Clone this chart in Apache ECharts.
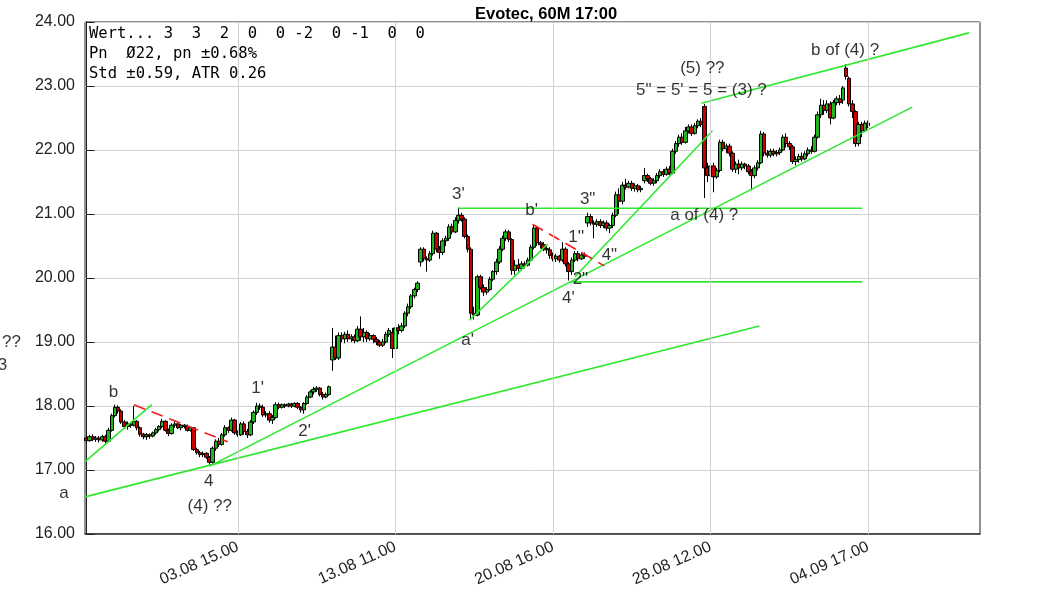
<!DOCTYPE html>
<html><head><meta charset="utf-8">
<script src="https://cdn.jsdelivr.net/npm/echarts@6/dist/echarts.min.js"></script>
<style>html,body{margin:0;padding:0;background:#fff}#c{width:1063px;height:591px}</style>
</head><body><div id="c"></div><script>
// ---- categories (hourly candles, 9:00-17:00) ----
const tradingDays = ['27.07','30.07','31.07','01.08','02.08','03.08','06.08','07.08','08.08','09.08','10.08',
  '13.08','14.08','15.08','16.08','17.08','20.08','21.08','22.08','23.08','24.08','27.08','28.08','29.08','30.08',
  '31.08','03.09','04.09','05.09','06.09','07.09','10.09'];
const hours = [9,10,11,12,13,14,15,16,17];
const firstDayStartHour = 12;
const nSlots = 284;
const tickLabels = ['03.08 15.00','13.08 11.00','20.08 16.00','28.08 12.00','04.09 17.00'];

// ---- OHLC ----
const open = [
17.50,17.46,17.52,17.48,17.50,17.47,17.52,17.45,17.62,17.85,
17.98,17.92,17.75,17.68,17.72,17.70,17.76,17.66,17.56,17.52,
17.55,17.53,17.58,17.63,17.68,17.76,17.62,17.57,17.70,17.72,
17.66,17.70,17.68,17.62,17.66,17.32,17.27,17.24,17.26,17.20,
17.12,17.34,17.45,17.40,17.55,17.66,17.62,17.78,17.58,17.55,
17.72,17.60,17.55,17.75,17.90,18.00,17.98,17.86,17.88,17.78,
17.82,18.02,17.98,18.02,18.00,18.03,18.00,18.04,17.98,17.94,
18.04,18.14,18.22,18.26,18.28,18.18,18.14,18.18,18.72,18.92,
18.75,19.10,19.05,19.12,19.05,19.08,19.02,19.20,19.08,19.15,
19.05,19.10,19.04,19.00,18.95,19.00,19.12,19.15,18.90,19.22,
19.18,19.25,19.45,19.55,19.72,19.82,20.25,20.45,20.30,20.28,
20.38,20.70,20.45,20.40,20.58,20.62,20.80,20.72,20.90,20.98,
20.92,20.65,20.45,19.45,19.42,20.02,19.85,19.78,19.82,19.98,
20.10,20.25,20.45,20.62,20.72,20.60,20.12,20.20,20.15,20.22,
20.20,20.28,20.48,20.78,20.55,20.52,20.46,20.44,20.35,20.30,
20.34,20.28,20.45,20.22,20.10,20.28,20.38,20.30,20.36,20.86,
20.96,20.86,20.84,20.88,20.82,20.86,20.78,20.82,20.98,21.30,
21.20,21.45,21.42,21.48,21.40,21.44,21.38,21.52,21.60,21.55,
21.48,21.52,21.60,21.66,21.62,21.70,21.64,21.98,22.10,22.20,
22.12,22.30,22.36,22.26,22.38,22.45,22.68,21.72,21.60,21.75,
21.58,21.68,22.12,22.02,22.06,21.95,21.70,21.78,21.72,21.78,
21.75,21.66,21.60,21.72,21.80,22.25,21.95,21.92,21.98,21.94,
21.96,22.00,22.20,22.10,22.05,21.82,21.85,21.90,21.86,21.94,
22.00,21.98,22.20,22.55,22.70,22.62,22.72,22.50,22.74,22.80,
22.78,23.28,23.12,22.72,22.60,22.10,22.40,22.30,22.42];
const close = [
17.46,17.52,17.48,17.50,17.47,17.52,17.45,17.62,17.85,17.98,
17.92,17.75,17.68,17.72,17.70,17.76,17.66,17.56,17.52,17.55,
17.53,17.58,17.63,17.68,17.76,17.62,17.57,17.70,17.72,17.66,
17.70,17.68,17.62,17.66,17.32,17.27,17.24,17.26,17.20,17.12,
17.34,17.45,17.40,17.55,17.66,17.62,17.78,17.58,17.55,17.72,
17.60,17.55,17.75,17.90,18.00,17.98,17.86,17.88,17.78,17.82,
18.02,17.98,18.02,18.00,18.03,18.00,18.04,17.98,17.94,18.04,
18.14,18.22,18.26,18.28,18.18,18.14,18.18,18.30,18.92,18.75,
19.10,19.05,19.12,19.05,19.08,19.02,19.20,19.08,19.15,19.05,
19.10,19.04,19.00,18.95,19.00,19.12,19.18,18.90,19.22,19.18,
19.25,19.45,19.55,19.72,19.82,19.92,20.45,20.30,20.28,20.38,
20.70,20.45,20.40,20.58,20.62,20.80,20.72,20.90,20.98,20.92,
20.65,20.45,19.45,19.42,20.02,19.85,19.78,19.82,19.98,20.10,
20.25,20.45,20.62,20.72,20.60,20.12,20.20,20.15,20.22,20.20,
20.28,20.48,20.78,20.55,20.52,20.46,20.44,20.35,20.30,20.34,
20.28,20.45,20.22,20.10,20.28,20.38,20.30,20.36,20.34,20.96,
20.86,20.84,20.88,20.82,20.86,20.78,20.82,20.98,21.30,21.20,
21.45,21.42,21.48,21.40,21.44,21.38,21.40,21.60,21.55,21.48,
21.52,21.60,21.66,21.62,21.70,21.64,21.98,22.10,22.20,22.12,
22.30,22.36,22.26,22.38,22.45,22.40,21.72,21.60,21.75,21.58,
21.68,22.12,22.02,22.06,21.95,21.70,21.78,21.72,21.78,21.75,
21.66,21.60,21.72,21.80,22.25,21.95,21.92,21.98,21.94,21.96,
22.00,22.20,22.10,22.05,21.82,21.85,21.90,21.86,21.94,22.00,
21.98,22.20,22.55,22.70,22.62,22.72,22.50,22.74,22.80,22.74,
22.97,23.15,22.72,22.60,22.10,22.40,22.30,22.42,22.38];
const low = [
17.43,17.44,17.45,17.44,17.43,17.44,17.41,17.43,17.60,17.82,
17.88,17.72,17.64,17.63,17.66,17.68,17.62,17.52,17.48,17.47,
17.49,17.51,17.55,17.60,17.65,17.60,17.53,17.55,17.66,17.64,
17.62,17.65,17.60,17.60,17.30,17.24,17.20,17.20,17.17,17.07,
17.10,17.30,17.36,17.38,17.52,17.58,17.60,17.55,17.52,17.53,
17.55,17.50,17.53,17.72,17.86,17.94,17.83,17.82,17.74,17.72,
17.80,17.95,17.96,17.97,17.98,17.97,17.98,17.95,17.90,17.88,
18.02,18.12,18.18,18.22,18.15,18.10,18.12,18.16,18.55,18.72,
18.72,19.00,18.98,19.00,19.00,18.98,19.00,19.02,19.00,19.00,
19.02,18.98,18.95,18.92,18.92,18.98,19.08,18.75,18.88,19.12,
19.15,19.22,19.40,19.52,19.68,19.78,20.18,20.26,20.10,20.25,
20.35,20.40,20.30,20.36,20.50,20.58,20.68,20.70,20.85,20.88,
20.62,20.40,19.35,19.35,19.40,19.82,19.72,19.74,19.80,19.95,
20.05,20.22,20.42,20.58,20.56,20.05,20.05,20.10,20.12,20.15,
20.18,20.25,20.45,20.50,20.46,20.42,20.38,20.30,20.26,20.25,
20.24,20.25,20.18,19.96,20.05,20.25,20.26,20.28,20.30,20.80,
20.82,20.62,20.80,20.78,20.78,20.74,20.70,20.78,20.95,21.00,
21.15,21.38,21.40,21.36,21.35,21.34,21.34,21.48,21.50,21.45,
21.44,21.48,21.56,21.58,21.60,21.60,21.62,21.94,22.05,22.08,
22.10,22.26,22.22,22.24,22.34,22.36,21.25,21.50,21.48,21.34,
21.55,21.65,21.98,21.95,21.90,21.66,21.64,21.62,21.68,21.70,
21.62,21.37,21.56,21.68,21.78,21.90,21.88,21.88,21.90,21.90,
21.92,21.98,22.04,22.00,21.78,21.76,21.80,21.82,21.84,21.90,
21.94,21.96,22.18,22.50,22.55,22.58,22.40,22.48,22.70,22.70,
22.72,23.10,22.68,22.50,22.05,22.06,22.20,22.28,22.34];
const high = [
17.54,17.55,17.56,17.53,17.53,17.55,17.55,17.66,17.88,18.02,
18.01,17.95,17.78,17.76,17.75,18.00,17.78,17.68,17.58,17.58,
17.57,17.60,17.66,17.70,17.80,17.78,17.65,17.73,17.76,17.74,
17.72,17.72,17.71,17.68,17.67,17.35,17.30,17.29,17.28,17.22,
17.37,17.48,17.50,17.58,17.70,17.68,17.82,17.80,17.62,17.75,
17.76,17.64,17.78,17.93,18.05,18.04,18.02,17.92,17.92,17.86,
18.06,18.05,18.04,18.04,18.05,18.05,18.06,18.06,18.00,18.06,
18.17,18.25,18.30,18.31,18.30,18.22,18.21,18.32,19.22,19.10,
19.15,19.15,19.16,19.18,19.12,19.12,19.25,19.40,19.22,19.18,
19.14,19.12,19.08,19.03,19.05,19.16,19.22,19.22,19.26,19.28,
19.30,19.48,19.60,19.75,19.85,19.95,20.48,20.48,20.34,20.42,
20.74,20.72,20.50,20.62,20.66,20.84,20.85,20.95,21.10,21.02,
20.95,20.68,20.48,19.55,20.05,20.05,19.90,19.86,20.02,20.12,
20.30,20.50,20.66,20.76,20.75,20.62,20.28,20.30,20.26,20.26,
20.32,20.52,20.84,20.80,20.58,20.56,20.50,20.48,20.40,20.38,
20.36,20.56,20.48,20.25,20.32,20.42,20.42,20.40,20.40,21.02,
21.00,20.90,20.92,20.92,20.90,20.90,20.85,21.02,21.35,21.40,
21.50,21.55,21.52,21.52,21.48,21.47,21.44,21.72,21.63,21.58,
21.56,21.64,21.70,21.70,21.74,21.75,22.02,22.14,22.24,22.26,
22.36,22.40,22.40,22.42,22.48,22.50,22.72,21.80,21.78,21.80,
21.72,22.16,22.16,22.10,22.10,21.98,21.82,21.85,21.82,21.80,
21.78,21.70,21.76,21.84,22.30,22.28,22.00,22.02,22.02,22.00,
22.04,22.24,22.26,22.14,22.08,21.90,21.94,21.96,21.98,22.04,
22.06,22.24,22.60,22.80,22.78,22.78,22.76,22.78,22.84,22.86,
23.00,23.34,23.15,22.78,22.62,22.44,22.44,22.46,22.46];

// ---- info box ----
const infoLines = ['Wert... 3  3  2  0  0 -2  0 -1  0  0', 'Pn  Ø22, pn ±0.68%', 'Std ±0.59, ATR 0.26'];

// ---- trend lines: [candle index, price] endpoints ----
const greenLines = [
  [[-0.5, 17.13], [20.7, 18.02]],
  [[-0.5, 16.58], [213.5, 19.25]],
  [[39.1, 17.06], [262.0, 22.67]],
  [[121.5, 19.34], [146.3, 20.53]],
  [[118.0, 21.09], [246.1, 21.09]],
  [[153.2, 19.94], [246.1, 19.94]],
  [[155.0, 20.02], [198.6, 22.30]],
  [[195.1, 22.73], [280.0, 23.83]]
];
const redDashedLines = [
  [[15.0, 18.02], [44.8, 17.44]],
  [[141.5, 20.84], [164.3, 20.19]]
];

// ---- annotations ----
const annoTexts = ['b','a','4','(4) ??',"1'","2'","3'","a'","b'","1''",'3"','4"','2"',"4'",'(5) ??','5" = 5\' = 5 = (3) ?','a of (4) ?','b of (4) ?'];
const annoIdx   = [8.5,-7.2,38.8,39.1,54.3,69.2,118.0,120.9,141.2,155.4,159.0,165.9,156.7,152.9,195.4,195.1,196.0,240.7];
const annoPrice = [18.22,16.63,16.83,16.44,18.28,17.61,21.30,19.03,21.05,20.63,21.23,20.36,19.98,19.69,23.28,22.94,20.98,23.56];
const edgeTexts = ['(3) ??', '3'];
const edgeIdx   = [-20.8, -25.2];
const edgePrice = [19.00, 18.63];

// ---- build ----
const categories = [];
tradingDays.forEach((d, k) => hours.forEach(h => {
  if (k === 0 && h < firstDayStartHour) return;
  categories.push(d + ' ' + String(h).padStart(2, '0') + '.00');
}));
const cats = categories.slice(0, nSlots);
const ohlc = open.map((o, i) => [o, close[i], low[i], high[i]]);
const FONT = '"Liberation Sans", Arial, sans-serif';
const showTick = (i, v) => tickLabels.includes(v);
const CLEAR = 'rgba(0,0,0,0)';
const annoLabel = { show: true, position: 'inside', formatter: '{b}', color: '#000', fontSize: 17, fontFamily: FONT,
  textBorderWidth: 0, textBorderColor: CLEAR };

const series = [
  { type: 'line', xAxisIndex: 0, yAxisIndex: 0, data: [], z: 1, silent: true,
    markLine: { silent: true, symbol: 'none', label: { show: false },
      lineStyle: { color: '#d2d2d2', type: 'solid', width: 1 },
      data: tickLabels.map(l => ({ xAxis: l })) } },
  { type: 'candlestick', xAxisIndex: 0, yAxisIndex: 0, data: ohlc, barWidth: 4, z: 3,
    itemStyle: { color: '#1fb51f', color0: '#c80000', borderColor: '#000', borderColor0: '#000', borderWidth: 1 } }
];
greenLines.forEach(seg => series.push({ type: 'line', xAxisIndex: 1, yAxisIndex: 0, data: seg, symbol: 'none', silent: true, z: 4,
  lineStyle: { color: '#2ee82e', width: 1.6 } }));
redDashedLines.forEach(seg => series.push({ type: 'line', xAxisIndex: 1, yAxisIndex: 0, data: seg, symbol: 'none', silent: true, z: 4,
  lineStyle: { color: '#f02020', width: 1.6, type: [12, 7] } }));
series.push({ type: 'scatter', xAxisIndex: 1, yAxisIndex: 0, symbolSize: 2, clip: false, silent: true, z: 5,
  itemStyle: { color: CLEAR }, label: annoLabel,
  data: annoTexts.map((t, i) => ({ name: t, value: [annoIdx[i], annoPrice[i]] })) });
series.push({ type: 'scatter', xAxisIndex: 1, yAxisIndex: 0, symbolSize: 2, clip: false, silent: true, z: 5,
  itemStyle: { color: CLEAR }, label: Object.assign({}, annoLabel, { align: 'right' }),
  data: edgeTexts.map((t, i) => ({ name: t, value: [edgeIdx[i], edgePrice[i]] })) });

const chart = echarts.init(document.getElementById('c'), null, { renderer: 'canvas' });
chart.setOption({
  animation: false,
  backgroundColor: '#fff',
  title: { text: 'Evotec, 60M 17:00', left: 470, top: 1,
    textStyle: { fontSize: 16.5, fontWeight: 'bold', fontFamily: FONT, color: '#000' } },
  grid: { left: 85, right: 83, top: 22, bottom: 57, show: true, borderColor: '#222', borderWidth: 1 },
  graphic: [{ type: 'text', left: 89, top: 24, z: 10,
    style: { text: infoLines.join('\n'), font: '15.5px "DejaVu Sans Mono", monospace', lineHeight: 20, fill: '#000' } }],
  xAxis: [
    { type: 'category', data: cats, boundaryGap: true,
      axisLine: { lineStyle: { color: '#333', width: 1.5 } },
      axisTick: { inside: true, length: 10, alignWithLabel: true, interval: showTick, lineStyle: { color: '#222' } },
      axisLabel: { interval: showTick, rotate: 24, fontSize: 16, fontFamily: FONT, color: '#222', margin: 12 },
      splitLine: { show: false } },
    { type: 'value', min: -0.5, max: nSlots - 0.5, show: false }
  ],
  yAxis: { type: 'value', min: 16, max: 24, interval: 1,
    axisLine: { show: true, lineStyle: { color: '#222' } },
    axisTick: { show: true, inside: true, length: 8, lineStyle: { color: '#222' } },
    axisLabel: { formatter: v => v.toFixed(2), fontSize: 16, fontFamily: FONT, color: '#222', margin: 10 },
    splitLine: { lineStyle: { color: '#d2d2d2' } } },
  series: series
});
</script></body></html>
